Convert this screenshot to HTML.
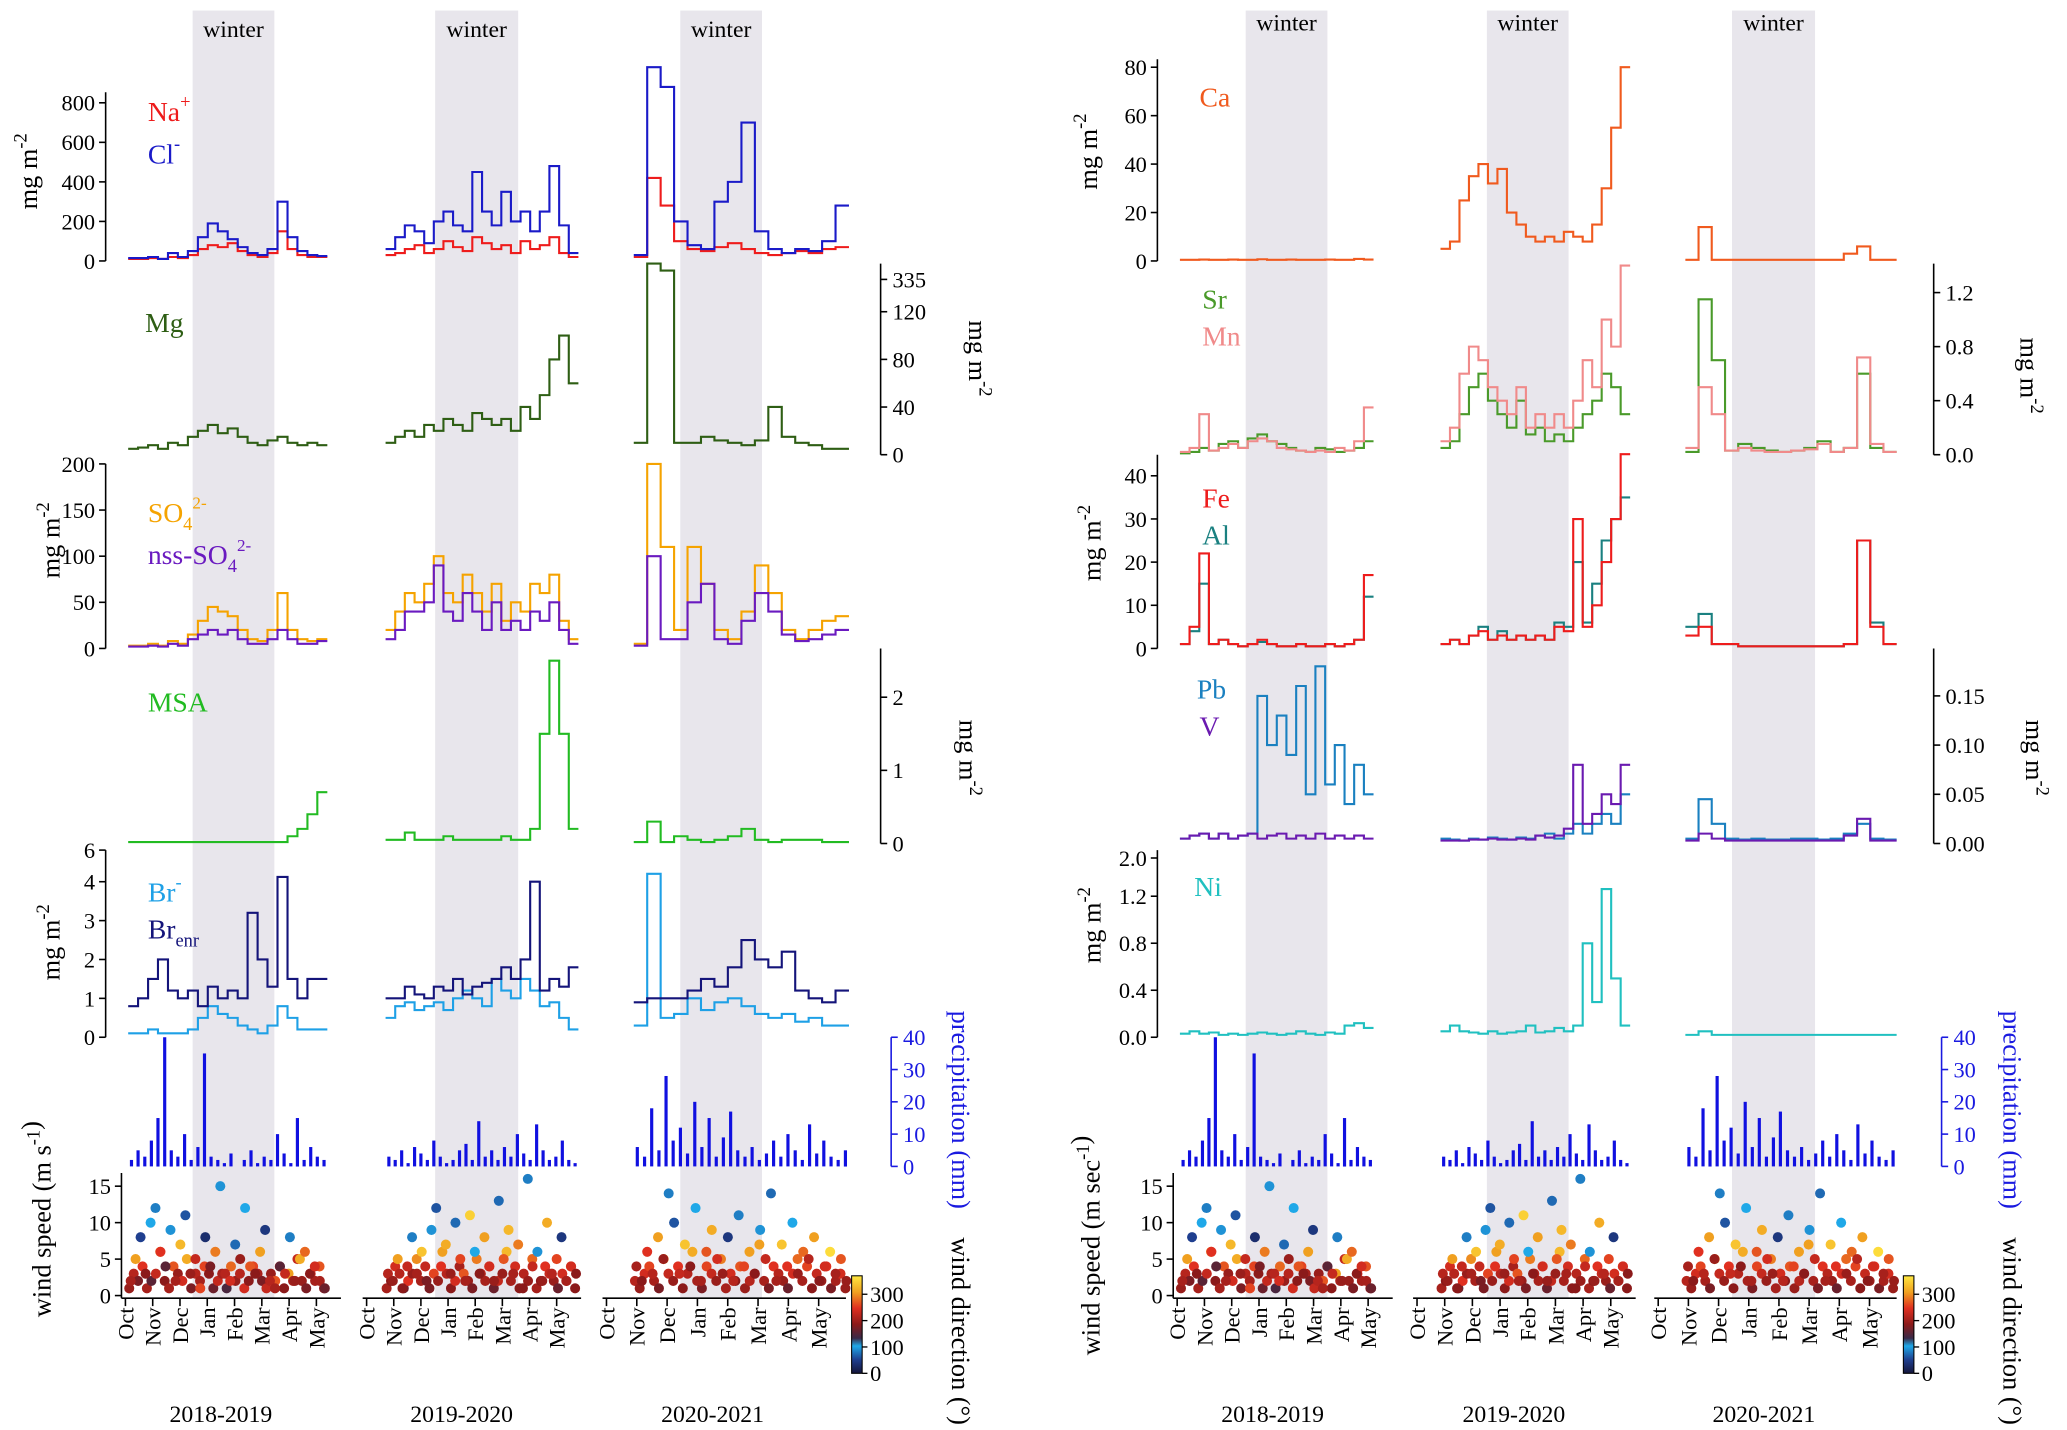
<!DOCTYPE html>
<html><head><meta charset="utf-8">
<style>
html,body{margin:0;padding:0;background:#fff;}
svg{display:block;font-family:"Liberation Serif",serif;}
</style></head>
<body>
<svg id="chart" width="2067" height="1430" viewBox="0 0 1568 1085" xmlns="http://www.w3.org/2000/svg">
<defs>
<linearGradient id="dirgrad" x1="0" y1="1" x2="0" y2="0">
<stop offset="0" stop-color="#15153a"/><stop offset="0.14" stop-color="#1f3f8f"/><stop offset="0.28" stop-color="#1fa8e8"/><stop offset="0.36" stop-color="#3a2a48"/><stop offset="0.5" stop-color="#8b1a1a"/><stop offset="0.67" stop-color="#e03020"/><stop offset="0.83" stop-color="#f0a020"/><stop offset="1" stop-color="#ffe840"/>
</linearGradient>
</defs>
<g id="layer"></g>
</svg>
<script>
// ---------- data (per season arrays) ----------
const monthLabels = ["Oct","Nov","Dec","Jan","Feb","Mar","Apr","May"];
const seasonLabels = ["2018-2019","2019-2020","2020-2021"];
const na = [[10,10,15,10,20,15,30,60,80,70,90,50,30,20,40,150,60,30,20,20],[30,40,60,80,40,60,100,70,50,120,90,60,80,40,100,60,80,120,40,20],[20,420,280,100,60,50,70,90,60,40,30,40,50,40,60,70]];
const cl = [[15,15,20,10,40,20,50,120,190,150,110,70,40,30,60,300,120,50,30,25],[60,120,180,150,90,200,250,180,150,450,250,180,350,200,250,150,250,480,180,40],[30,980,880,200,80,60,300,400,700,150,60,40,60,50,100,280]];
const mg = [[5,6,8,5,10,8,15,20,25,18,22,15,10,8,12,15,10,8,10,8],[10,15,20,15,25,20,30,25,20,35,30,25,30,20,40,30,50,80,100,60],[10,335,300,10,10,15,12,10,8,12,40,15,10,8,5,5]];
const so4 = [[3,3,5,3,8,5,15,30,45,40,35,20,10,8,20,60,20,10,8,10],[20,40,60,50,70,100,60,50,80,60,40,70,30,50,40,70,60,80,30,10],[5,200,110,20,110,70,20,10,40,90,60,20,10,20,30,35]];
const nss = [[2,2,3,2,5,3,10,15,20,15,20,10,5,5,10,20,10,5,5,8],[10,20,40,40,50,90,40,30,60,40,20,50,20,30,20,40,30,50,20,5],[3,100,10,10,50,70,10,5,30,60,40,15,8,10,15,20]];
const msa = [[0.02,0.02,0.02,0.02,0.02,0.02,0.02,0.02,0.02,0.02,0.02,0.02,0.02,0.02,0.02,0.02,0.1,0.2,0.4,0.7],[0.05,0.05,0.15,0.05,0.05,0.05,0.1,0.05,0.05,0.05,0.05,0.05,0.1,0.05,0.05,0.2,1.5,2.5,1.5,0.2],[0.02,0.3,0.02,0.1,0.05,0.02,0.05,0.1,0.2,0.05,0.02,0.05,0.05,0.05,0.02,0.02]];
const br = [[0.1,0.1,0.2,0.1,0.1,0.1,0.2,0.5,0.8,0.6,0.5,0.3,0.2,0.1,0.3,0.8,0.5,0.2,0.2,0.2],[0.5,0.8,0.9,0.7,0.8,0.9,0.7,1.0,1.2,1.0,0.8,1.5,1.2,1.0,1.5,1.2,0.8,0.9,0.5,0.2],[0.3,4.5,0.5,0.6,1.0,0.7,0.9,1.0,0.8,0.6,0.5,0.6,0.4,0.5,0.3,0.3]];
const brenr = [[0.8,1.0,1.5,2.0,1.2,1.0,1.2,0.8,1.3,1.0,1.2,1.0,3.2,2.0,1.3,4.3,1.5,1.0,1.5,1.5],[1.0,1.0,1.3,1.1,1.0,1.3,1.2,1.5,1.1,1.3,1.4,1.5,1.8,1.5,2.0,4.0,1.2,1.5,1.3,1.8],[0.9,1.0,1.0,1.0,1.2,1.5,1.3,1.8,2.5,2.0,1.8,2.2,1.2,1.0,0.9,1.2]];
const precip = [[2,5,3,8,15,40,5,3,10,2,6,35,3,2,1,4,0,2,5,1,3,2,10,4,1,15,2,6,3,2],[3,2,5,1,6,4,2,8,3,1,2,5,7,2,14,3,5,2,6,3,10,4,2,13,5,2,3,8,2,1],[6,3,18,5,28,8,12,4,20,6,15,3,9,17,5,3,6,2,4,8,3,10,5,2,13,4,8,3,2,5]];
const windSpeed = [[2,5,8,3,10,12,6,4,9,2,7,11,3,5,1,8,4,6,15,3,2,7,5,12,4,3,6,9,2,1,4,3,8,2,5,6,3,4,2,1],[3,2,5,1,4,8,3,6,2,9,12,4,7,3,10,5,2,11,6,3,8,4,2,13,5,9,3,7,1,16,4,6,2,10,3,5,8,2,4,3],[4,2,6,3,8,5,14,10,3,7,4,12,2,6,9,5,3,8,2,11,4,6,3,9,5,14,2,7,4,10,3,6,5,8,2,4,6,3,5,2]];
const windDir = [[200,300,50,180,100,80,240,150,90,200,320,60,190,220,250,30,170,280,90,210,230,70,190,100,260,180,300,40,210,200,150,220,80,190,310,270,180,230,200,160],[210,190,300,180,220,80,200,330,170,90,60,240,310,190,70,250,200,340,100,180,300,230,190,70,260,320,200,280,180,80,220,90,190,310,210,250,40,200,230,180],[200,180,240,210,300,190,80,60,220,330,180,100,200,260,310,230,190,40,210,80,250,300,180,90,220,70,200,330,240,100,190,270,210,300,180,230,350,200,260,190]];
const windSpeedB = [[1,3,2,4,1,2,3,6,2,1,4,3,2,5,1,3,2,4,3,1,2,3,1,4,2,3,1,2,4,3,2,1,3,2,4,1,3,2,5,2,1,3,2,4,1],[1,2,4,3,1,2,3,5,2,4,1,3,2,6,3,1,2,4,3,2,1,5,3,2,4,1,2,3,6,2,4,1,3,2,5,1,2,4,3,2,1,3,2,4,1],[2,1,3,4,2,1,5,3,2,4,1,3,6,2,1,4,3,2,5,1,3,2,4,1,2,3,7,2,1,4,3,2,1,3,5,2,4,1,3,2,4,1,2,3,1]];
const windDirB = [[190,210,170,240,200,150,220,280,180,200,260,190,230,310,170,210,200,250,180,160,220,200,140,270,190,210,230,180,250,200,170,220,190,260,210,180,300,200,220,190,170,230,200,260,180],[200,180,230,210,160,240,190,290,200,220,170,250,190,300,210,180,230,200,260,190,170,280,210,200,240,160,220,190,320,200,230,180,210,190,270,200,180,240,220,190,160,230,200,250,180],[210,190,230,250,200,170,290,220,190,240,180,210,310,200,170,250,220,190,280,200,230,180,260,190,210,220,300,200,170,240,210,190,160,230,270,200,250,180,220,190,240,170,200,230,190]];
const ca = [[0.5,0.5,0.6,0.5,0.5,0.6,0.5,0.5,0.7,0.5,0.5,0.6,0.5,0.5,0.5,0.6,0.5,0.5,0.8,0.6],[5,8,25,35,40,32,38,20,15,10,8,10,8,12,10,8,15,30,55,80],[0.5,14,0.5,0.5,0.5,0.5,0.5,0.5,0.5,0.5,0.5,0.5,3,6,0.5,0.5]];
const sr = [[0.01,0.02,0.05,0.03,0.08,0.1,0.05,0.12,0.15,0.1,0.08,0.05,0.03,0.02,0.05,0.04,0.02,0.03,0.05,0.1],[0.05,0.1,0.3,0.5,0.6,0.4,0.3,0.2,0.4,0.15,0.2,0.1,0.15,0.1,0.2,0.3,0.4,0.6,0.5,0.3],[0.02,1.15,0.7,0.03,0.08,0.05,0.03,0.02,0.03,0.05,0.1,0.02,0.05,0.6,0.05,0.02]];
const mn = [[0.02,0.05,0.3,0.03,0.05,0.08,0.05,0.1,0.12,0.1,0.05,0.04,0.03,0.02,0.03,0.02,0.05,0.03,0.1,0.35],[0.1,0.2,0.6,0.8,0.7,0.5,0.4,0.3,0.5,0.2,0.3,0.2,0.3,0.2,0.4,0.7,0.5,1.0,0.8,1.4],[0.05,0.5,0.3,0.03,0.05,0.03,0.02,0.02,0.03,0.04,0.08,0.02,0.05,0.72,0.08,0.02]];
const fe = [[1,5,22,1,2,1,0.5,1,2,1,0.5,0.5,1,0.5,0.5,1,0.5,1,2,17],[1,2,1,3,4,2,3,2,3,2,3,2,5,4,30,5,10,20,30,45],[3,5,1,1,0.5,0.5,0.5,0.5,0.5,0.5,0.5,0.5,1,25,5,1]];
const al = [[1,4,15,1,2,1,0.5,1,1.5,1,0.5,0.5,1,0.5,0.5,1,0.5,1,2,12],[1,2,1,3,5,2,4,2,3,2,3,2,6,5,20,6,15,25,30,35],[5,8,1,1,0.5,0.5,0.5,0.5,0.5,0.5,0.5,0.5,1,25,6,1]];
const pb = [[0.005,0.008,0.01,0.005,0.01,0.005,0.008,0.01,0.15,0.1,0.13,0.09,0.16,0.05,0.18,0.06,0.1,0.04,0.08,0.05],[0.005,0.004,0.003,0.005,0.004,0.006,0.005,0.004,0.006,0.005,0.008,0.01,0.005,0.01,0.02,0.01,0.02,0.03,0.02,0.05],[0.005,0.045,0.02,0.005,0.004,0.005,0.004,0.004,0.005,0.005,0.004,0.005,0.01,0.02,0.005,0.004]];
const v = [[0.005,0.008,0.01,0.005,0.01,0.005,0.008,0.01,0.005,0.008,0.01,0.005,0.008,0.005,0.01,0.005,0.008,0.005,0.008,0.005],[0.003,0.003,0.003,0.004,0.004,0.005,0.004,0.004,0.005,0.004,0.008,0.006,0.008,0.015,0.08,0.02,0.03,0.05,0.04,0.08],[0.003,0.01,0.005,0.003,0.003,0.003,0.003,0.003,0.003,0.003,0.003,0.003,0.008,0.025,0.003,0.003]];
const ni = [[0.03,0.05,0.03,0.04,0.02,0.03,0.02,0.03,0.04,0.03,0.02,0.03,0.05,0.03,0.02,0.04,0.03,0.1,0.12,0.08],[0.05,0.1,0.05,0.04,0.03,0.05,0.03,0.04,0.05,0.1,0.04,0.05,0.08,0.05,0.1,0.8,0.3,1.35,0.5,0.1],[0.02,0.05,0.02,0.02,0.02,0.02,0.02,0.02,0.02,0.02,0.02,0.02,0.02,0.02,0.02,0.02]];

// ---------- layout ----------
const LS = [{x0:95,pm:20.7,d0:0.1,d1:7.4,w0:146,w1:208},{x0:278,pm:20.6,d0:0.7,d1:7.8,w0:330,w1:393},{x0:460,pm:23,d0:0.9,d1:8.0,w0:516,w1:578}];
const RS = [{x0:893,pm:20.7,d0:0.1,d1:7.2,w0:945,w1:1007},{x0:1075,pm:21,d0:0.85,d1:7.7,w0:1128,w1:1190},{x0:1258,pm:22.9,d0:0.9,d1:7.9,w0:1314,w1:1377}];
const NS="http://www.w3.org/2000/svg";
const root=document.getElementById('layer');
function mk(tag,at,parent){const e=document.createElementNS(NS,tag);for(const k in at)e.setAttribute(k,at[k]);(parent||root).appendChild(e);return e;}
function lin(v0,y0,v1,y1){return x=>y0+(x-v0)*(y1-y0)/(v1-v0);}
function brk(v0,y0,v1,y1,vb,yb){const f=lin(v0,y0,v1,y1);return x=>x<=v1?f(x):y1+(Math.min(x,vb)-v1)*(yb-y1)/(vb-v1);}
function txt(x,y,s,o){o=o||{};const e=mk('text',{x:x,y:y,'font-size':o.fs||17,fill:o.fill||'#000','text-anchor':o.anchor||'start'});if(o.rot)e.setAttribute('transform','rotate('+o.rot+' '+x+' '+y+')');e.innerHTML=s;return e;}

function drawStep(seas,vals,yf,color,name,w){
  seas.forEach((s,si)=>{
    const arr=vals[si];const n=arr.length;
    const xf=i=>s.x0+(s.d0+(s.d1-s.d0)*i/n)*s.pm;
    let d='';
    arr.forEach((val,i)=>{const y=yf(val).toFixed(1);
      if(i===0)d+='M'+xf(0).toFixed(1)+' '+y;else d+=' V'+y;
      d+=' H'+xf(i+1).toFixed(1);});
    const p=mk('path',{d:d,fill:'none',stroke:color,'stroke-width':w||1.6});
    
    
  });
}
function axisY(x,side,ticks,labels,yf,ytop,ybot,color,name){
  const g=mk('g',{});
  
  
  mk('line',{x1:x,y1:ytop,x2:x,y2:ybot,stroke:color||'#000','stroke-width':1.2},g);
  ticks.forEach((t,i)=>{const y=yf(t);
    mk('line',{x1:x,y1:y,x2:x+(side==='l'?-5:5),y2:y,stroke:color||'#000','stroke-width':1.2},g);
    const e=txt(side==='l'?x-8:x+9,y+6,labels[i],{anchor:side==='l'?'end':'start',fill:color||'#000',fs:17});g.appendChild(e);});
}
function title(x,y,html,rot,color,name){const e=txt(x,y,html,{rot:rot,anchor:'middle',fs:20,fill:color||'#000'});}
function label(x,y,html,color,name){const e=txt(x,y,html,{fs:21,fill:color});}
function dirColor(d){const st=[[0,[21,21,58]],[50,[31,63,143]],[100,[31,168,232]],[130,[58,42,72]],[180,[139,26,26]],[240,[224,48,32]],[300,[240,160,32]],[360,[255,232,64]]];
  for(let i=1;i<st.length;i++){if(d<=st[i][0]){const a=st[i-1],b=st[i],t=(d-a[0])/(b[0]-a[0]);return 'rgb('+a[1].map((c,k)=>Math.round(c+(b[1][k]-c)*t)).join(',')+')';}}return 'rgb(255,232,64)';}

function drawWind(s,sp,dr,yW,shift){
  const n=sp.length;
  sp.forEach((val,i)=>{const x=s.x0+(s.d0+(s.d1-s.d0)*(i+shift)/n)*s.pm;
    const c=mk('circle',{cx:x.toFixed(1),cy:yW(val).toFixed(1),r:3.8,fill:dirColor(dr[i])});
    
    });
}

function panel(S,side){
  S.forEach((s,si)=>{const r=mk('rect',{x:s.w0,y:8,width:s.w1-s.w0,height:977,fill:'#e8e6ec'});
    
    
    const t=txt((s.w0+s.w1)/2,side==='L'?28:23,'winter',{anchor:'middle',fs:18});
    
    });
  const yP=lin(0,885,40,787);
  S.forEach((s,si)=>{const arr=precip[si];const n=arr.length;
    arr.forEach((val,i)=>{const x=s.x0+(s.d0+(s.d1-s.d0)*(i+0.5)/n)*s.pm;
      const b=mk('rect',{x:(x-1.2).toFixed(1),y:yP(val).toFixed(1),width:2.4,height:(885-yP(val)).toFixed(1),fill:'#1010e0'});
      
      });});
  const yW=lin(0,983,15,900);
  S.forEach((s,si)=>{
    drawWind(s,windSpeedB[si],windDirB[si],yW,0.25);
    drawWind(s,windSpeed[si],windDir[si],yW,0.5);
    const g=mk('g',{});
    
    
    const xe=s.x0+s.pm*7.9;
    mk('line',{x1:s.x0-3,y1:985,x2:xe,y2:985,stroke:'#000','stroke-width':1.2},g);
    monthLabels.forEach((m,k)=>{const x=s.x0+k*s.pm;mk('line',{x1:x,y1:985,x2:x,y2:991,stroke:'#000','stroke-width':1.2},g);
      g.appendChild(txt(x+6,992,m,{rot:-90,anchor:'end',fs:17}));});
    const yl=txt(s.x0+s.pm*3.5,1079,seasonLabels[si],{anchor:'middle',fs:18});
    
    
  });
  const cbx=side==='L'?646:1444;
  const cb=mk('rect',{x:cbx,y:968,width:8,height:74,fill:'url(#dirgrad)',stroke:'#000','stroke-width':0.8});
  
  
  const yC=lin(0,1042,300,982);
  [0,100,200,300].forEach(t=>{mk('line',{x1:cbx+8,y1:yC(t),x2:cbx+12,y2:yC(t),stroke:'#000'});txt(cbx+14,yC(t)+6,String(t),{fs:17});});
  return {yP,yW};
}

// ---------- LEFT PANEL ----------
(function(){
  const {yP,yW}=panel(LS,'L');
  const yNa=lin(0,198,800,78);
  drawStep(LS,na,yNa,'#ee1c1c','na');
  drawStep(LS,cl,v=>Math.max(yNa(v),50),'#1a1ac8','cl');
  axisY(80,'l',[0,200,400,600,800],['0','200','400','600','800'],yNa,70,198,'#000','na-cl-y-axis');
  const yMg=brk(0,345,125,232,335,200);
  drawStep(LS,mg,yMg,'#2e5e14','mg');
  axisY(668,'r',[0,40,80,120,335],['0','40','80','120','335'],v=>v===335?212:yMg(v),200,345,'#000','mg-y-axis');
  const ySO=lin(0,492,200,352);
  drawStep(LS,so4,ySO,'#f5a300','so4');
  drawStep(LS,nss,ySO,'#6a1ac0','nss-so4');
  axisY(80,'l',[0,50,100,150,200],['0','50','100','150','200'],ySO,352,492,'#000','so4-y-axis');
  const yMSA=lin(0,640,2,529);
  drawStep(LS,msa,yMSA,'#22bb22','msa');
  axisY(668,'r',[0,1,2],['0','1','2'],yMSA,492,640,'#000','msa-y-axis');
  const yBr=brk(0,787,4,669,6,645);
  drawStep(LS,br,yBr,'#1ea0e6','br');
  drawStep(LS,brenr,yBr,'#14147a','br-enr');
  axisY(80,'l',[0,1,2,3,4,6],['0','1','2','3','4','6'],yBr,645,787,'#000','br-y-axis');
  axisY(676,'r',[0,10,20,30,40],['0','10','20','30','40'],yP,787,885,'#1a1ae0','precip-y-axis');
  axisY(92,'l',[0,5,10,15],['0','5','10','15'],yW,890,985,'#000','wind-speed-y-axis');
  title(28,130,'mg m<tspan dy="-8" font-size="14">-2</tspan>',-90,'#000','na-y-title');
  title(45,410,'mg m<tspan dy="-8" font-size="14">-2</tspan>',-90,'#000','so4-y-title');
  title(45,715,'mg m<tspan dy="-8" font-size="14">-2</tspan>',-90,'#000','br-y-title');
  title(735,272,'mg m<tspan dy="-8" font-size="14">-2</tspan>',90,'#000','mg-y-title');
  title(728,575,'mg m<tspan dy="-8" font-size="14">-2</tspan>',90,'#000','msa-y-title');
  title(722,842,'precipitation (mm)',90,'#1a1ae0','precip-y-title');
  title(722,1010,'wind direction (°)',90,'#000','wind-direction-title');
  title(38,925,'wind speed (m s<tspan dy="-8" font-size="14">-1</tspan>)',-90,'#000','wind-speed-title');
  label(112,92,'Na<tspan dy="-10" font-size="14">+</tspan>','#ee1c1c','na-legend');
  label(112,124,'Cl<tspan dy="-10" font-size="14">-</tspan>','#1a1ac8','cl-legend');
  label(110,252,'Mg','#2e5e14','mg-legend');
  label(112,396,'SO<tspan dy="6" font-size="14">4</tspan><tspan dy="-16" font-size="13">2-</tspan>','#f5a300','so4-legend');
  label(112,428,'nss-SO<tspan dy="6" font-size="14">4</tspan><tspan dy="-16" font-size="13">2-</tspan>','#6a1ac0','nss-so4-legend');
  label(112,540,'MSA','#22bb22','msa-legend');
  label(112,684,'Br<tspan dy="-10" font-size="14">-</tspan>','#1ea0e6','br-legend');
  label(112,712,'Br<tspan dy="6" font-size="14">enr</tspan>','#14147a','brenr-legend');
})();

// ---------- RIGHT PANEL ----------
(function(){
  const {yP,yW}=panel(RS,'R');
  const yCa=lin(0,198,80,51);
  drawStep(RS,ca,yCa,'#f05a1e','ca');
  axisY(878,'l',[0,20,40,60,80],['0','20','40','60','80'],yCa,45,198,'#000','ca-y-axis');
  const ySr=lin(0,345,1.2,222);
  drawStep(RS,sr,ySr,'#4a9a2a','sr');
  drawStep(RS,mn,ySr,'#f08a8a','mn');
  axisY(1467,'r',[0,0.4,0.8,1.2],['0.0','0.4','0.8','1.2'],ySr,200,345,'#000','sr-mn-y-axis');
  const yFe=lin(0,492,40,361);
  drawStep(RS,al,yFe,'#1a8080','al');
  drawStep(RS,fe,yFe,'#ee1c1c','fe');
  axisY(878,'l',[0,10,20,30,40],['0','10','20','30','40'],yFe,345,492,'#000','fe-al-y-axis');
  const yPb=lin(0,640,0.15,528);
  drawStep(RS,pb,yPb,'#1a80c0','pb');
  drawStep(RS,v,yPb,'#6a1ab0','v');
  axisY(1467,'r',[0,0.05,0.1,0.15],['0.00','0.05','0.10','0.15'],yPb,492,640,'#000','pb-v-y-axis');
  const yNi=brk(0,787,1.2,680,2.0,651);
  drawStep(RS,ni,yNi,'#20c0c0','ni');
  axisY(878,'l',[0,0.4,0.8,1.2,2.0],['0.0','0.4','0.8','1.2','2.0'],yNi,645,787,'#000','ni-y-axis');
  axisY(1473,'r',[0,10,20,30,40],['0','10','20','30','40'],yP,787,885,'#1a1ae0','precip-y-axis-right');
  axisY(890,'l',[0,5,10,15],['0','5','10','15'],yW,890,985,'#000','wind-speed-y-axis-right');
  title(832,115,'mg m<tspan dy="-8" font-size="14">-2</tspan>',-90,'#000','ca-y-title');
  title(835,412,'mg m<tspan dy="-8" font-size="14">-2</tspan>',-90,'#000','fe-y-title');
  title(835,702,'mg m<tspan dy="-8" font-size="14">-2</tspan>',-90,'#000','ni-y-title');
  title(1533,285,'mg m<tspan dy="-8" font-size="14">-2</tspan>',90,'#000','sr-y-title');
  title(1537,575,'mg m<tspan dy="-8" font-size="14">-2</tspan>',90,'#000','pb-y-title');
  title(1520,842,'precipitation (mm)',90,'#1a1ae0','precip-y-title-right');
  title(1520,1010,'wind direction (°)',90,'#000','wind-direction-title-right');
  title(834,945,'wind speed (m sec<tspan dy="-8" font-size="14">-1</tspan>)',-90,'#000','wind-speed-title-right');
  label(910,81,'Ca','#f05a1e','ca-legend');
  label(912,234,'Sr','#4a9a2a','sr-legend');
  label(912,262,'Mn','#f08a8a','mn-legend');
  label(912,385,'Fe','#ee1c1c','fe-legend');
  label(912,413,'Al','#1a8080','al-legend');
  label(908,530,'Pb','#1a80c0','pb-legend');
  label(910,558,'V','#6a1ab0','v-legend');
  label(906,680,'Ni','#20c0c0','ni-legend');
})();
</script>
</body></html>
